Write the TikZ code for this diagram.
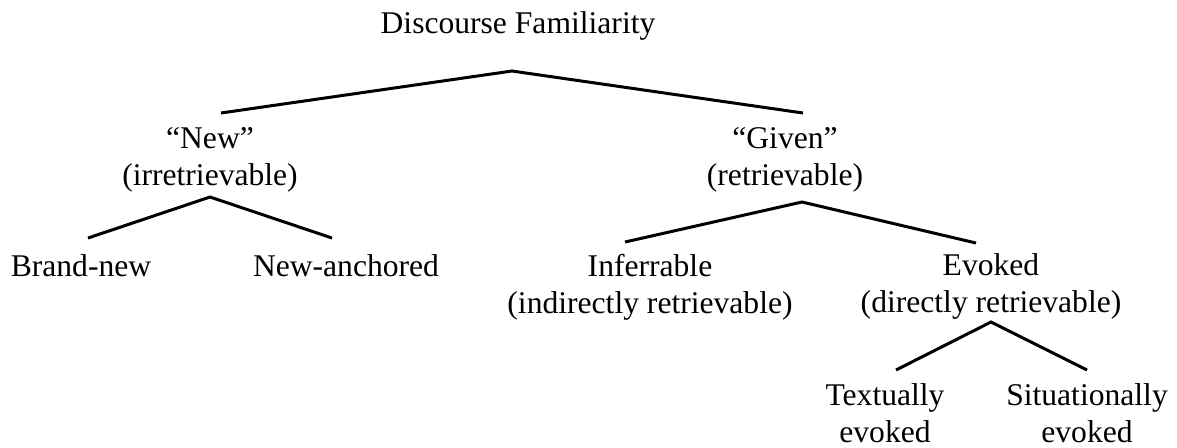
\documentclass[tikz,border=0pt]{standalone}
\usepackage{fontspec}
\setmainfont{Liberation Serif}
\usepackage{tikz}
\usetikzlibrary{calc}

\begin{document}
\begin{tikzpicture}[x=0.5pt,y=-0.5pt]
    \tikzset{lbl/.style={anchor=base, align=center, inner sep=0pt, font=\fontsize{15.8}{18.5}\selectfont},
        branch/.style={line width=1.5pt}}
    \useasboundingbox (0,0) rectangle (1177,447);
    % labels (base = last line)
    \node[lbl] (root) at (518,33) {Discourse Familiarity};
    \node[lbl] (new) at (210,185) {“New”\\(irretrievable)};
    \node[lbl] (given) at (785,185) {“Given”\\(retrievable)};
    \node[lbl] (brand) at (81,276) {Brand-new};
    \node[lbl] (anchored) at (346,276) {New-anchored};
    \node[lbl] (infer) at (650,313) {Inferrable\\(indirectly retrievable)};
    \node[lbl] (evoked) at (991,312) {Evoked\\(directly retrievable)};
    \node[lbl] (textual) at (885,442) {Textually\\evoked};
    \node[lbl] (situ) at (1087,442) {Situationally\\evoked};
    % branches
    \draw[branch] ($(new.base)+(11,-72)$)--($(root.base)+(-6,38)$)--($(given.base)+(18,-72)$);
    \draw[branch] ($(brand.base)+(7,-38)$)--($(new.base)+(0,12)$)--($(anchored.base)+(-14,-38)$);
    \draw[branch] ($(infer.base)+(-25,-71)$)--($(given.base)+(17,17)$)--($(evoked.base)+(-15,-69)$);
    \draw[branch] ($(textual.base)+(11,-72)$)--($(evoked.base)+(0,10)$)--($(situ.base)+(0,-72)$);
\end{tikzpicture}
\end{document}
